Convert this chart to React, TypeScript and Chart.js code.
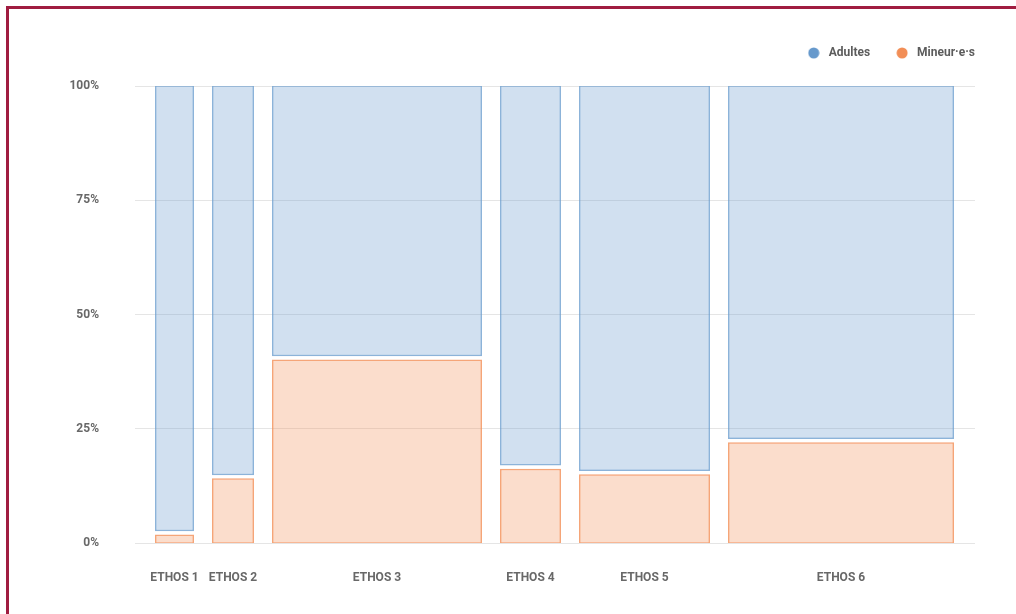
import React, { useEffect, useRef } from "react";
import { Chart, registerables } from "chart.js";

Chart.register(...registerables);

// ---- Data ----
const categories = ["ETHOS 1", "ETHOS 2", "ETHOS 3", "ETHOS 4", "ETHOS 5", "ETHOS 6"];
const groupSizes = [57, 60, 228, 79, 149, 244]; // relative column widths
const minorShare = [2.2, 14.5, 40.5, 16.6, 15.4, 22.4]; // Mineur·e·s (%)
const adultShare = [97.8, 85.5, 59.5, 83.4, 84.6, 77.6]; // Adultes (%)
const seriesNames = ["Adultes", "Mineur·e·s"];
const yTicks = [0, 25, 50, 75, 100];

// ---- Styles ----
const BLUE = "rgb(102,153,204)";
const ORANGE = "rgb(242,142,86)";
const FONT = "Roboto";
const BAR_SIDE_GAP = 9; // px between column and slot edge
const SEG_GAP = 3.2; // px between stacked segments
const LEGEND_PAD = 23;
const LEGEND_EXTRA = 17;

const starts: number[] = [];
const ends: number[] = [];
{
  let acc = 0;
  for (const s of groupSizes) {
    starts.push(acc);
    acc += s;
    ends.push(acc);
  }
}
const centers = starts.map((s, i) => (s + ends[i]) / 2);
const total = ends[ends.length - 1];

function makeDot(color: string): HTMLCanvasElement {
  const c = document.createElement("canvas");
  c.width = 12;
  c.height = 12;
  const ctx = c.getContext("2d")!;
  ctx.fillStyle = color;
  ctx.beginPath();
  ctx.arc(6, 6, 5.5, 0, Math.PI * 2);
  ctx.fill();
  return c;
}

const mekkoPlugin = {
  id: "mekko",
  beforeDatasetsDraw(chart: any) {
    const xs = chart.scales.x;
    const ys = chart.scales.y;
    chart.data.datasets.forEach((ds: any, di: number) => {
      const meta = chart.getDatasetMeta(di);
      meta.data.forEach((el: any, i: number) => {
        const l = xs.getPixelForValue(starts[i]) + BAR_SIDE_GAP;
        const r = xs.getPixelForValue(ends[i]) - BAR_SIDE_GAP;
        el.x = (l + r) / 2;
        el.width = r - l;
        const [lo, hi] = ds.data[i].y;
        let top = ys.getPixelForValue(hi);
        let bottom = ys.getPixelForValue(lo);
        if (hi < 100) top += SEG_GAP / 2;
        else top -= 0.75;
        if (lo > 0) bottom -= SEG_GAP / 2;
        else bottom += 0.75;
        el.y = top;
        el.base = bottom;
        el.height = bottom - top;
      });
    });
  },
};

const legendTweak = {
  id: "legendTweak",
  beforeLayout(chart: any) {
    const lg = chart.legend;
    if (lg && !lg.__patched) {
      const orig = lg.fit;
      lg.fit = function () {
        orig.call(this);
        this.height += LEGEND_EXTRA;
      };
      lg.__patched = true;
    }
  },
  afterLayout(chart: any) {
    const lg = chart.legend;
    if (lg) {
      lg.left += LEGEND_PAD;
      lg.right += LEGEND_PAD;
    }
  },
};

export default function App() {
  const ref = useRef<HTMLCanvasElement>(null);

  useEffect(() => {
    if (!ref.current) return;
    const dots = [makeDot(BLUE), makeDot(ORANGE)];
    const chart = new Chart(ref.current, {
      type: "bar",
      data: {
        datasets: [
          {
            label: seriesNames[0],
            data: adultShare.map((v, i) => ({ x: centers[i], y: [100 - v, 100] })) as any,
            backgroundColor: "rgba(102,153,204,0.3)",
            borderColor: "rgba(102,153,204,0.75)",
            borderWidth: 1.5,
            borderSkipped: false,
            inflateAmount: 0,
            grouped: false,
          } as any,
          {
            label: seriesNames[1],
            data: minorShare.map((v, i) => ({ x: centers[i], y: [0, v] })) as any,
            backgroundColor: "rgba(242,142,86,0.3)",
            borderColor: "rgba(242,142,86,0.8)",
            borderWidth: 1.5,
            borderSkipped: false,
            inflateAmount: 0,
            grouped: false,
          } as any,
        ],
      },
      options: {
        responsive: false,
        animation: false,
        devicePixelRatio: 1,
        layout: { padding: { top: 24, right: 41, bottom: 0, left: 0 } },
        plugins: {
          tooltip: { enabled: false },
          legend: {
            position: "top",
            align: "end",
            labels: {
              usePointStyle: true,
              pointStyleWidth: 18,
              padding: LEGEND_PAD,
              color: "#5c5c5c",
              font: { family: FONT, size: 12, weight: "bold" as any },
              generateLabels: () =>
                seriesNames.map((name, i) => ({
                  text: name,
                  pointStyle: dots[i] as any,
                  fillStyle: i === 0 ? BLUE : ORANGE,
                  strokeStyle: i === 0 ? BLUE : ORANGE,
                  lineWidth: 0,
                  hidden: false,
                  datasetIndex: i,
                  fontColor: "#5c5c5c",
                })),
            },
          },
        },
        scales: {
          x: {
            type: "linear",
            offset: false,
            min: -11,
            max: total + 12,
            grid: { display: false, drawTicks: false },
            border: { display: false },
            afterFit: (s: any) => {
              s.height = 71;
            },
            afterBuildTicks: (s: any) => {
              s.ticks = centers.map((v) => ({ value: v }));
            },
            ticks: {
              autoSkip: false,
              maxRotation: 0,
              padding: 28,
              color: "#686868",
              font: { family: FONT, size: 12, weight: "bold" as any },
              callback: (_v: any, idx: number) => categories[idx],
            },
          },
          y: {
            type: "linear",
            min: 0,
            max: 100,
            grid: { color: "rgba(0,0,0,0.1)", drawTicks: false },
            border: { display: false },
            afterFit: (s: any) => {
              s.width = 135;
            },
            afterBuildTicks: (s: any) => {
              s.ticks = yTicks.map((v) => ({ value: v }));
            },
            ticks: {
              padding: 36,
              color: "#686868",
              font: { family: FONT, size: 12, weight: "bold" as any },
              callback: (v: any) => `${v}%`,
            },
          },
        },
      },
      plugins: [mekkoPlugin, legendTweak],
    });
    return () => chart.destroy();
  }, []);

  return (
    <div>
      <div style={{ position: "fixed", left: 0, top: 0, width: 1016, height: 614, background: "#fff" }}>
        <canvas ref={ref} width={1016} height={614} style={{ display: "block" }} />
      </div>
      <div
        style={{
          position: "fixed",
          left: 6,
          top: 6,
          width: 2000,
          height: 2000,
          border: "3px solid #a01c40",
          pointerEvents: "none",
        }}
      />
    </div>
  );
}
